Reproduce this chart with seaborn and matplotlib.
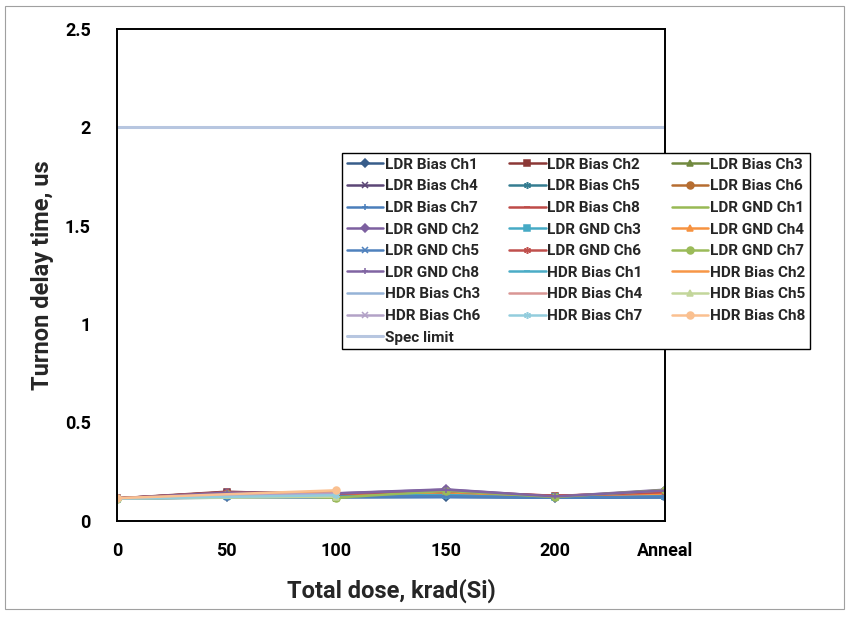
import numpy as np
import pandas as pd
import matplotlib
matplotlib.use("Agg")
import matplotlib.pyplot as plt
import seaborn as sns

# --- data ---
doses = ['0', '50', '100', '150', '200', 'Anneal']

series_names = [
    'LDR Bias Ch1', 'LDR Bias Ch2', 'LDR Bias Ch3', 'LDR Bias Ch4',
    'LDR Bias Ch5', 'LDR Bias Ch6', 'LDR Bias Ch7', 'LDR Bias Ch8',
    'LDR GND Ch1', 'LDR GND Ch2', 'LDR GND Ch3', 'LDR GND Ch4',
    'LDR GND Ch5', 'LDR GND Ch6', 'LDR GND Ch7', 'LDR GND Ch8',
    'HDR Bias Ch1', 'HDR Bias Ch2', 'HDR Bias Ch3', 'HDR Bias Ch4',
    'HDR Bias Ch5', 'HDR Bias Ch6', 'HDR Bias Ch7', 'HDR Bias Ch8',
]

# turn-on delay (us) per dose step, None = not measured
ldr_bias = [
    [0.113, 0.120, 0.120, 0.122, 0.118, 0.120],
    [0.114, 0.148, 0.132, 0.140, 0.126, 0.128],
    [0.113, 0.140, 0.118, 0.150, 0.120, 0.155],
    [0.114, 0.145, 0.135, 0.155, 0.122, 0.150],
    [0.113, 0.125, 0.125, 0.130, 0.120, 0.125],
    [0.114, 0.143, 0.138, 0.148, 0.125, 0.140],
    [0.113, 0.118, 0.119, 0.120, 0.117, 0.118],
    [0.114, 0.140, 0.135, 0.145, 0.128, 0.140],
]
ldr_gnd = [
    [0.113, 0.135, 0.117, 0.150, 0.120, 0.152],
    [0.114, 0.142, 0.140, 0.160, 0.123, 0.158],
    [0.113, 0.128, 0.126, 0.132, 0.121, 0.128],
    [0.114, 0.138, 0.136, 0.145, 0.124, 0.138],
    [0.113, 0.122, 0.123, 0.125, 0.119, 0.123],
    [0.114, 0.145, 0.137, 0.150, 0.127, 0.145],
    [0.113, 0.138, 0.118, 0.152, 0.121, 0.156],
    [0.114, 0.143, 0.139, 0.158, 0.124, 0.154],
]
hdr_bias = [
    [0.113, None, 0.128, None, None, None],
    [0.114, None, 0.148, None, None, None],
    [0.113, None, 0.125, None, None, None],
    [0.114, None, 0.140, None, None, None],
    [0.113, None, 0.122, None, None, None],
    [0.114, None, 0.138, None, None, None],
    [0.113, None, 0.130, None, None, None],
    [0.115, None, 0.155, None, None, None],
]
spec_limit = 2.0

colors = [
    '#385D8A', '#8C3836', '#71893F', '#5C4776', '#357D91', '#B66D31',
    '#4A7EBB', '#BE4B48', '#98B954', '#7D60A0', '#46AAC5', '#F69240',
    '#4F81BD', '#C0504D', '#9BBB59', '#8064A2', '#4BACC6', '#F79646',
    '#95B3D7', '#D99694', '#C3D69B', '#B3A2C7', '#93CDDD', '#FAC090',
]
asterisk = (6, 2, 0)
markers = [
    'D', 's', '^', 'x', asterisk, 'o', '+', '_',
    None, 'D', 's', '^', 'x', asterisk, 'o', '+',
    '_', None, None, None, '^', 'x', asterisk, 'o',
]

# long-form table
rows = []
for name, vals in zip(series_names, ldr_bias + ldr_gnd + hdr_bias):
    for i, v in enumerate(vals):
        if v is not None:
            rows.append({'series': name, 'pos': i, 'delay': v})
df = pd.DataFrame(rows)

sns.set_style("white")
plt.rcParams['font.family'] = ['Roboto', 'DejaVu Sans']
plt.rcParams['font.weight'] = 'bold'

fig = plt.figure(figsize=(8.49, 6.2), dpi=100)
ax = fig.add_axes([0.138, 0.160, 0.645, 0.793])

# spec limit first (drawn at the back), legend entry goes last
spec_line = ax.axhline(spec_limit, color='#B7C6E0', lw=2.2, label='Spec limit')

for name, col, mk in zip(series_names, colors, markers):
    sub = df[df['series'] == name]
    ms = 4.2 if mk == 'D' else 5
    sns.lineplot(data=sub, x='pos', y='delay', ax=ax, color=col, marker=mk,
                 markersize=ms, markeredgewidth=1.1, markeredgecolor=col,
                 linewidth=1.8, label=name, sort=False, estimator=None)

ax.set_xlim(0, len(doses) - 1)
ax.set_ylim(0, 2.5)
ax.set_xticks(range(len(doses)))
ax.set_xticklabels(doses)
ax.set_yticks([0, 0.5, 1, 1.5, 2, 2.5])
ax.set_yticklabels(['0', '0.5', '1', '1.5', '2', '2.5'])
ax.tick_params(axis='both', direction='in', length=5, width=1.2,
               labelsize=13, colors='black')
ax.tick_params(axis='y', pad=19)
ax.tick_params(axis='x', pad=15)
for lbl in ax.get_xticklabels() + ax.get_yticklabels():
    lbl.set_fontweight('bold')
for sp in ax.spines.values():
    sp.set_color('black')
    sp.set_linewidth(1.4)

ax.set_xlabel('Total dose, krad(Si)', fontsize=17, fontweight='bold', labelpad=14)
ax.set_ylabel('Turnon delay time, us', fontsize=17, fontweight='bold', labelpad=8)

# legend in row order (Excel style), matplotlib fills columns
handles, labels = ax.get_legend_handles_labels()
order = series_names + ['Spec limit']
hmap = dict(zip(labels, handles))
items = [(hmap[l], l) for l in order]
ncol = 3
reordered = []
for c in range(ncol):
    reordered += items[c::ncol]
leg = ax.legend([h for h, _ in reordered], [l for _, l in reordered],
                ncol=ncol, loc='upper left',
                bbox_to_anchor=(342 / 849, 1 - 153 / 620),
                bbox_transform=fig.transFigure,
                fontsize=11, frameon=True, fancybox=False, framealpha=1,
                edgecolor='black', handlelength=2.4, handletextpad=0.1,
                columnspacing=1.9, labelspacing=0.5, borderpad=0.3,
                borderaxespad=0)
leg.get_frame().set_linewidth(1.0)
for t in leg.get_texts():
    t.set_fontweight('bold')

# thin chart-area border
fig.patches.append(plt.Rectangle((0.006, 0.018), 0.988, 0.972,
                                 transform=fig.transFigure, fill=False,
                                 edgecolor='#A0A0A0', linewidth=0.8))

fig.savefig('out.png', dpi=100)
